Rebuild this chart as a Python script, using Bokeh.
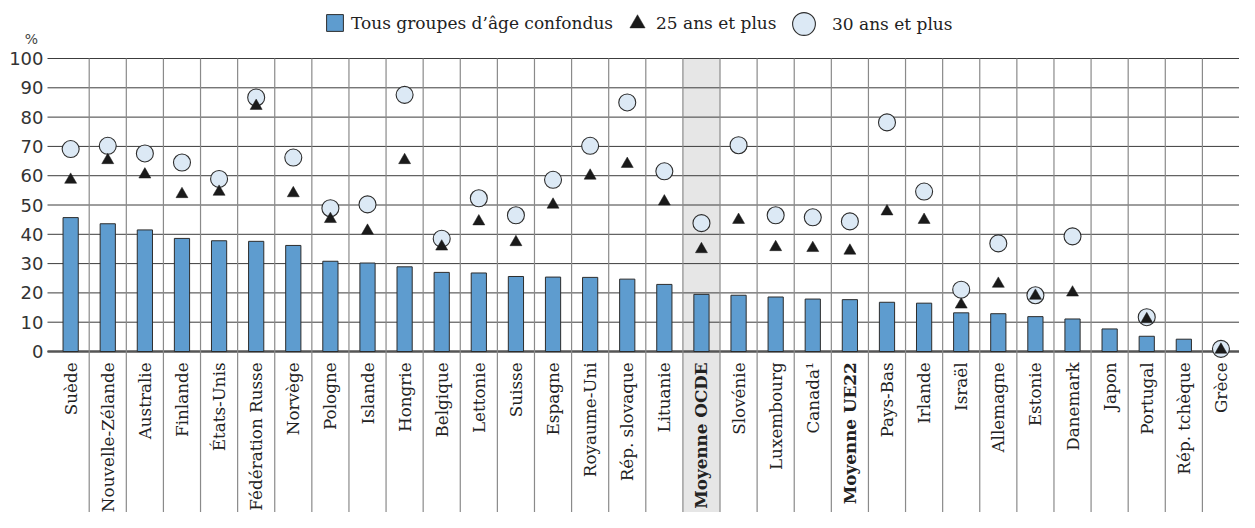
import numpy as np
from bokeh.plotting import figure
from bokeh.models import Range1d, Legend, LegendItem, ColumnDataSource
from bokeh.core.properties import value
from bokeh.embed import file_html
from bokeh.resources import INLINE

categories = ["Suède", "Nouvelle-Zélande", "Australie", "Finlande", "États-Unis",
              "Fédération Russe", "Norvège", "Pologne", "Islande", "Hongrie",
              "Belgique", "Lettonie", "Suisse", "Espagne", "Royaume-Uni",
              "Rép. slovaque", "Lituanie", "Moyenne OCDE", "Slovénie", "Luxembourg",
              "Canada¹", "Moyenne UE22", "Pays-Bas", "Irlande", "Israël",
              "Allemagne", "Estonie", "Danemark", "Japon", "Portugal",
              "Rép. tchèque", "Grèce"]

tous_ages = [45.7, 43.6, 41.5, 38.6, 37.8, 37.6, 36.2, 30.8, 30.2, 28.9,
             27.0, 26.8, 25.6, 25.4, 25.3, 24.7, 22.9, 19.5, 19.2, 18.6,
             17.9, 17.7, 16.8, 16.5, 13.2, 12.9, 11.9, 11.1, 7.7, 5.2,
             4.2, 0.4]

ans25_plus = [58.6, 65.3, 60.4, 53.7, 54.5, 83.8, 54.0, 45.2, 41.2, 65.3,
              35.8, 44.4, 37.3, 50.1, 60.0, 64.0, 51.2, 34.9, 44.9, 35.6,
              35.3, 34.4, 47.8, 44.9, 16.0, 23.1, 19.0, 20.1, np.nan, 11.0,
              np.nan, 0.6]

ans30_plus = [69.1, 70.2, 67.6, 64.5, 58.9, 86.7, 66.2, 48.9, 50.2, 87.6,
              38.5, 52.3, 46.5, 58.6, 70.2, 85.0, 61.5, 43.8, 70.4, 46.5,
              45.8, 44.4, 78.2, 54.6, 21.1, 36.9, 19.2, 39.3, np.nan, 11.7,
              np.nan, 0.9]

y_ticks = [0, 10, 20, 30, 40, 50, 60, 70, 80, 90, 100]
y_tick_labels = [str(t) for t in y_ticks]
y_unit = "%"
highlight = "Moyenne OCDE"

n = len(categories)
centers = np.arange(n) + 0.5
styles = ["bold" if c.startswith("Moyenne") else "normal" for c in categories]

src = ColumnDataSource(dict(x=centers, cat=categories, tous=tous_ages,
                            a25=ans25_plus, a30=ans30_plus, style=styles))

W, H = 1239, 512
CELL = (W - 51.6) / n          # pixels per category
X_START = -51.6 / CELL
GRID_LEFT = -4.6 / CELL
Y_BOTTOM = -54.95
Y_TOP = 119.8

p = figure(width=W, height=H, output_backend="svg", toolbar_location=None,
           x_range=Range1d(X_START, n), y_range=Range1d(Y_BOTTOM, Y_TOP),
           min_border_left=0, min_border_right=0, min_border_top=0, min_border_bottom=0)
p.outline_line_color = None
p.background_fill_color = "white"
p.xaxis.visible = False
p.yaxis.visible = False
p.xgrid.visible = False
p.ygrid.visible = False

# highlight band for OECD average
hi = categories.index(highlight)
p.quad(left=[hi], right=[hi + 1], bottom=[Y_BOTTOM], top=[max(y_ticks)],
       fill_color="#e6e6e6", line_color=None)

# horizontal grid lines
p.segment(x0=[GRID_LEFT] * len(y_ticks), x1=[n] * len(y_ticks), y0=y_ticks, y1=y_ticks,
          line_color="#3c3c3c", line_width=1)
# zero line
p.segment(x0=[GRID_LEFT], x1=[n], y0=[0], y1=[0], line_color="#555555", line_width=2.5)

# vertical separators
bounds = np.arange(1, n)
p.segment(x0=bounds, x1=bounds, y0=[max(y_ticks)] * len(bounds), y1=[Y_BOTTOM] * len(bounds),
          line_color="#8a8a8a", line_width=1.2)

# y tick labels
p.text(x=[-8.6 / CELL] * len(y_ticks), y=y_ticks, text=y_tick_labels,
       text_align="right", text_baseline="middle",
       text_font=value("DejaVu Sans"), text_font_size="18px", text_color="#333333")
p.text(x=[-20.6 / CELL], y=[106.6], text=[y_unit],
       text_align="center", text_baseline="middle",
       text_font=value("DejaVu Sans"), text_font_size="14px", text_color="#444444")

bars = p.vbar(x="x", top="tous", bottom=0, width=0.41, source=src,
              fill_color="#5e9ccf", line_color="#2d2d2d", line_width=1)
circ = p.scatter(x="x", y="a30", source=src, marker="circle", size=17,
                 fill_color="#dce9f5", line_color="#2d2d2d", line_width=1.1)
tri = p.scatter(x="x", y="a25", source=src, marker="triangle", size=12,
                fill_color="#1a1a1a", line_color="#1a1a1a", line_width=0.5)

# category labels
p.text(x="x", y=-3.7, text="cat", source=src, angle=np.pi / 2,
       text_align="right", text_baseline="middle",
       text_font=value("DejaVu Serif"), text_font_size="16.8px",
       text_font_style="style", text_color="#222222")

def make_legend(label, rend, gsize, standoff, loc):
    lg = Legend(items=[LegendItem(label=label, renderers=[rend])],
                location=loc, glyph_width=gsize, glyph_height=gsize,
                label_standoff=standoff, label_height=10, label_width=10,
                padding=0, margin=0, spacing=0,
                border_line_color=None, background_fill_alpha=0,
                label_text_font="DejaVu Serif", label_text_font_size="17px",
                label_text_color="#222222")
    p.add_layout(lg, "center")

make_legend("Tous groupes d’âge confondus", bars, 21, 6, (324, 479))
make_legend("25 ans et plus", tri, 38, 0, (618, 470))
make_legend("30 ans et plus", circ, 57, 0, (775, 460))

open("out.html", "w").write(file_html(p, INLINE))
